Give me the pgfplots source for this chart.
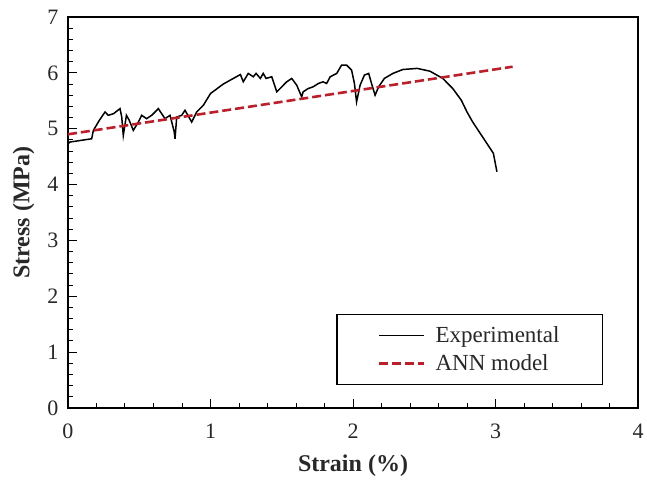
\documentclass[border=0pt]{standalone}
\usepackage{pgfplots}
\pgfplotsset{compat=1.18}
\usepackage{fontspec}
\setmainfont{Liberation Serif}
\definecolor{annred}{RGB}{190,30,42}
\definecolor{txt}{RGB}{40,40,40}
\begin{document}
\begin{tikzpicture}
\path[use as bounding box] (-68pt,-79pt) rectangle (579pt,408pt);
\begin{axis}[
  at={(0,0)}, anchor=south west,
  scale only axis, width=570pt, height=391pt,
  xmin=0, xmax=4, ymin=0, ymax=7,
  xtick={0,1,2,3,4}, ytick={0,1,...,7},
  minor tick num=4,
  tick align=inside, tick pos=left,
  major tick length=9pt, minor tick length=5pt,
  every tick/.style={black, line width=1pt},
  axis line style={black, line width=1.2pt},
  /pgf/number format/assume math mode=true,
  ticklabel style={font=\fontsize{22}{26}\selectfont, text=txt},
  xticklabel shift=12pt, yticklabel shift=6pt,
  xlabel={\textbf{Strain (\%)}},
  ylabel={\textbf{Stress (MPa)}},
  label style={font=\fontsize{24}{28}\selectfont, text=txt},
  xlabel style={yshift=-10pt},
  ylabel style={yshift=6pt},
  legend cell align=left,
  legend style={at={(0.9386,0.0588)}, anchor=south east,
    draw=black, line width=1.1pt, inner xsep=41pt, inner ysep=10pt,
    font=\fontsize{23}{26}\selectfont, text=txt,
    row sep=7pt},
  legend image code/.code={\draw[#1] (0pt,0pt) -- (45pt,0pt); \path (53pt,0pt);},
]
\addplot[black, line width=1.5pt] coordinates {
(0,4.72) (0.01,4.76) (0.166,4.82) (0.178,4.97) (0.22,5.15) (0.26,5.30)
(0.283,5.24) (0.32,5.27) (0.365,5.36) (0.377,5.21) (0.388,4.88) (0.41,5.24)
(0.43,5.15) (0.458,4.97) (0.494,5.12) (0.517,5.24) (0.552,5.18) (0.587,5.24)
(0.634,5.36) (0.657,5.27) (0.681,5.18) (0.716,5.24) (0.745,4.95) (0.751,4.82)
(0.763,5.21) (0.798,5.24) (0.821,5.33) (0.868,5.12) (0.903,5.30) (0.95,5.42)
(1.0,5.63) (1.09,5.80) (1.16,5.90) (1.21,5.97) (1.23,5.84) (1.265,5.99)
(1.30,5.93) (1.32,5.99) (1.35,5.90) (1.37,5.99) (1.39,5.90) (1.43,5.93)
(1.465,5.66) (1.50,5.75) (1.535,5.84) (1.57,5.90) (1.605,5.78) (1.64,5.57)
(1.65,5.66) (1.686,5.72) (1.72,5.75) (1.757,5.81) (1.79,5.84) (1.815,5.81)
(1.84,5.93) (1.886,5.99) (1.92,6.14) (1.955,6.14) (1.99,6.05) (2.01,5.81)
(2.025,5.48) (2.05,5.78) (2.08,5.96) (2.11,5.99) (2.13,5.81) (2.155,5.60)
(2.18,5.75) (2.22,5.90) (2.28,5.99) (2.35,6.06) (2.45,6.08) (2.54,6.03)
(2.63,5.90) (2.70,5.72) (2.76,5.51) (2.80,5.30) (2.84,5.12) (2.91,4.85)
(2.985,4.56) (3.01,4.23)
};
\addlegendentry{Experimental}
\addplot[annred, line width=2.6pt, dash pattern=on 9pt off 4pt] coordinates {
(0,4.9) (3.12,6.11)
};
\addlegendentry{ANN model}
\end{axis}
\end{tikzpicture}
\end{document}
